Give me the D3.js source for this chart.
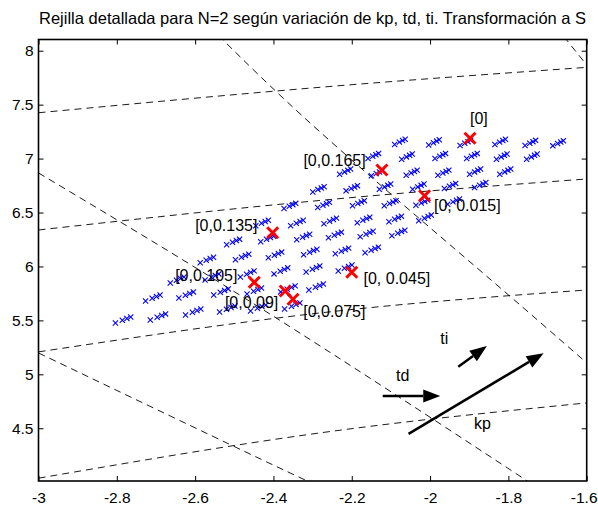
<!DOCTYPE html>
<html>
<head>
<meta charset="utf-8">
<script src="https://cdn.jsdelivr.net/npm/d3@7"></script>
<style>
  body { margin: 0; background: #fff; }
  svg text { font-family: Arial, "Liberation Sans", Helvetica, sans-serif; fill: #000; }
</style>
</head>
<body>
<div id="chart"></div>
<script>
// cluster centres, one row per kp step, six td steps per row
const rowX = [
  [-2.077, -1.990, -1.910, -1.821, -1.744, -1.673],
  [-2.145, -2.059, -1.974, -1.893, -1.817, -1.740],
  [-2.217, -2.136, -2.047, -1.966, -1.885, -1.808],
  [-2.285, -2.200, -2.115, -2.030, -1.949, -1.872],
  [-2.358, -2.272, -2.183, -2.102, -2.021, -1.940],
  [-2.429, -2.340, -2.255, -2.170, -2.089, -2.013],
  [-2.503, -2.416, -2.324, -2.243, -2.162, -2.081],
  [-2.570, -2.480, -2.396, -2.306, -2.225, -2.149],
  [-2.646, -2.557, -2.467, -2.381, -2.299, -2.217],
  [-2.708, -2.623, -2.534, -2.449, -2.363, -2.291],
  [-2.784, -2.695, -2.605, -2.518, -2.439, -2.352]
];
const rowY = [
  [7.155, 7.150, 7.145, 7.155, 7.145, 7.142],
  [7.024, 7.018, 7.024, 7.024, 7.018, 7.018],
  [6.879, 6.864, 6.869, 6.869, 6.879, 6.879],
  [6.715, 6.725, 6.740, 6.740, 6.746, 6.755],
  [6.561, 6.570, 6.586, 6.586, 6.591, 6.601],
  [6.403, 6.403, 6.422, 6.431, 6.440, 6.450],
  [6.227, 6.255, 6.273, 6.292, 6.301, 6.310],
  [6.060, 6.088, 6.107, 6.134, 6.144, 6.153],
  [5.875, 5.903, 5.931, 5.959, 5.977, 5.986],
  [5.708, 5.736, 5.764, 5.773, 5.792, 5.810],
  [5.504, 5.532, 5.578, 5.606, 5.615, 5.634]
];
// ti spread of each cluster (per row), and where the 4 ti points fall in it
const tiSpreadX = [0.027, 0.027, 0.028, 0.029, 0.030, 0.032, 0.033, 0.034, 0.035, 0.037, 0.039];
const tiSpreadY = [0.048, 0.048, 0.048, 0.048, 0.048, 0.052, 0.052, 0.052, 0.056, 0.056, 0.056];
const tiFrac = [0, 0.45, 0.75, 1];

// highlighted points + their labels
const redX = [-1.898, -2.123, -2.014, -2.402, -2.449, -2.370, -2.350, -2.200];
const redY = [7.188, 6.894, 6.656, 6.313, 5.853, 5.773, 5.696, 5.946];
const redLabels = ["[0]", "[0,0.165]", "[0, 0.015]", "[0,0.135]", "[0,0.105]", "[0,0.09]", "[0,0.075]", "[0, 0.045]"];
const labelX = [-1.898, -2.3235, -1.990, -2.600, -2.651, -2.524, -2.324, -2.170];
const labelY = [7.373, 6.982, 6.570, 6.380, 5.921, 5.666, 5.583, 5.891];

// dashed reference lines
const dashLines = [
  [[-3, 7.425], [-2.281, 7.661], [-1.6, 7.846]],
  [[-3, 6.338], [-2.281, 6.612], [-1.6, 6.811]],
  [[-3, 5.208], [-2.281, 5.569], [-1.6, 5.782]],
  [[-3, 4.037], [-2.281, 4.457], [-1.6, 4.735]],
  [[-1.676, 8.22], [-1.651, 8.099], [-1.6, 7.868]],
  [[-2.562, 8.22], [-2.281, 7.247], [-1.880, 5.986], [-1.6, 5.106]],
  [[-3, 6.867], [-2.426, 5.598], [-1.752, 4.012]],
  [[-3, 5.198], [-2.509, 4.346], [-2.314, 4.012]]
];

// direction arrows
const arrowNames = ["td", "ti", "kp"];
const arrowFrom = [[-2.121, 4.800], [-1.928, 5.071], [-2.055, 4.448]];
const arrowTo = [[-1.974, 4.800], [-1.855, 5.263], [-1.710, 5.196]];
const arrowTextPos = [[-2.087, 4.994], [-1.974, 5.337], [-1.8875, 4.549]];

const xTicks = [-3, -2.8, -2.6, -2.4, -2.2, -2, -1.8, -1.6];
const yTicks = [4.5, 5, 5.5, 6, 6.5, 7, 7.5, 8];

const width = 598, height = 508;
const margin = {left: 38.5, right: 11.3, top: 39.5, bottom: 27};

const x = d3.scaleLinear().domain([-3, -1.6]).range([margin.left, width - margin.right]);
const y = d3.scaleLinear().domain([4.011, 8.104]).range([height - margin.bottom, margin.top]);

const svg = d3.select("#chart").append("svg")
    .attr("width", width)
    .attr("height", height);

svg.append("rect").attr("width", width).attr("height", height).attr("fill", "#fff");

svg.append("defs").append("clipPath").attr("id", "plotclip")
  .append("rect")
    .attr("x", margin.left).attr("y", margin.top)
    .attr("width", x.range()[1] - margin.left)
    .attr("height", y.range()[0] - margin.top);

const plot = svg.append("g").attr("clip-path", "url(#plotclip)");

// dashed lines
const line = d3.line().x(d => x(d[0])).y(d => y(d[1])).curve(d3.curveNatural);
plot.append("g").selectAll("path")
    .data(dashLines)
  .join("path")
    .attr("d", line)
    .attr("fill", "none")
    .attr("stroke", "#000")
    .attr("stroke-width", 0.9)
    .attr("stroke-dasharray", "7,5");

// blue grid of x markers
const pts = [];
rowX.forEach((row, r) => {
  row.forEach((cx, c) => {
    tiFrac.forEach(f => {
      pts.push([cx + (f - 0.5) * tiSpreadX[r], rowY[r][c] + (f - 0.5) * tiSpreadY[r]]);
    });
  });
});

function cross(s) {
  return `M${-s},${-s}L${s},${s}M${-s},${s}L${s},${-s}`;
}

plot.append("g").selectAll("path")
    .data(pts)
  .join("path")
    .attr("transform", d => `translate(${x(d[0])},${y(d[1])})`)
    .attr("d", cross(2.6))
    .attr("fill", "none")
    .attr("stroke", "#0000ff")
    .attr("stroke-width", 1.1);

// red markers
plot.append("g").selectAll("path")
    .data(redX)
  .join("path")
    .attr("transform", (d, i) => `translate(${x(d)},${y(redY[i])})`)
    .attr("d", cross(5.5))
    .attr("fill", "none")
    .attr("stroke", "#ff0000")
    .attr("stroke-width", 3);

// labels
svg.append("g").selectAll("text")
    .data(redLabels)
  .join("text")
    .attr("x", (d, i) => x(labelX[i]))
    .attr("y", (d, i) => y(labelY[i]))
    .attr("dy", "0.35em")
    .style("font-size", "16px")
    .text(d => d);

// arrows
const headLen = 17, headW = 13;
const ag = svg.append("g");
arrowNames.forEach((name, i) => {
  const x0 = x(arrowFrom[i][0]), y0 = y(arrowFrom[i][1]);
  const x1 = x(arrowTo[i][0]), y1 = y(arrowTo[i][1]);
  const a = Math.atan2(y1 - y0, x1 - x0);
  const bx = x1 - headLen * Math.cos(a), by = y1 - headLen * Math.sin(a);
  ag.append("line")
    .attr("x1", x0).attr("y1", y0).attr("x2", bx).attr("y2", by)
    .attr("stroke", "#000").attr("stroke-width", 2.5);
  const px = -Math.sin(a) * headW / 2, py = Math.cos(a) * headW / 2;
  ag.append("path")
    .attr("d", `M${x1},${y1}L${bx + px},${by + py}L${bx - px},${by - py}Z`)
    .attr("fill", "#000");
  ag.append("text")
    .attr("x", x(arrowTextPos[i][0]))
    .attr("y", y(arrowTextPos[i][1]))
    .attr("dy", "0.35em")
    .style("font-size", "16px")
    .text(name);
});

// axes: ticks pointing inwards on all four sides
const fmt = d => String(d);
const x0px = margin.left, x1px = x.range()[1];
const y0px = y.range()[0], y1px = margin.top;

const gx = svg.append("g").attr("transform", `translate(0,${y0px})`)
  .call(d3.axisBottom(x).tickValues(xTicks).tickFormat(fmt).tickSizeInner(-5).tickSizeOuter(0).tickPadding(11));
const gxt = svg.append("g").attr("transform", `translate(0,${y1px})`)
  .call(d3.axisTop(x).tickValues(xTicks).tickFormat("").tickSizeInner(-5).tickSizeOuter(0));
const gy = svg.append("g").attr("transform", `translate(${x0px},0)`)
  .call(d3.axisLeft(y).tickValues(yTicks).tickFormat(fmt).tickSizeInner(-5).tickSizeOuter(0).tickPadding(5));
const gyr = svg.append("g").attr("transform", `translate(${x1px},0)`)
  .call(d3.axisRight(y).tickValues(yTicks).tickFormat("").tickSizeInner(-5).tickSizeOuter(0));

[gx, gxt, gy, gyr].forEach(g => {
  g.select(".domain").remove();
  g.selectAll(".tick line").attr("stroke", "#000").attr("stroke-width", 1);
  g.selectAll("text").style("font-size", "15.5px").attr("fill", "#000")
    .style("font-family", "Arial, 'Liberation Sans', sans-serif");
});
// last x label sits against the window edge
gx.selectAll(".tick text").filter(d => d === -1.6)
    .attr("text-anchor", "end").attr("x", width - 1 - x(-1.6));

svg.append("rect")
    .attr("x", x0px).attr("y", y1px)
    .attr("width", x1px - x0px).attr("height", y0px - y1px)
    .attr("fill", "none")
    .attr("stroke", "#000")
    .attr("stroke-width", 1.6);

svg.append("text")
    .attr("x", (x0px + x1px) / 2)
    .attr("y", 24)
    .attr("text-anchor", "middle")
    .style("font-size", "16.5px")
    .text("Rejilla detallada para N=2 según variación de kp, td, ti. Transformación a S");
</script>
</body>
</html>
